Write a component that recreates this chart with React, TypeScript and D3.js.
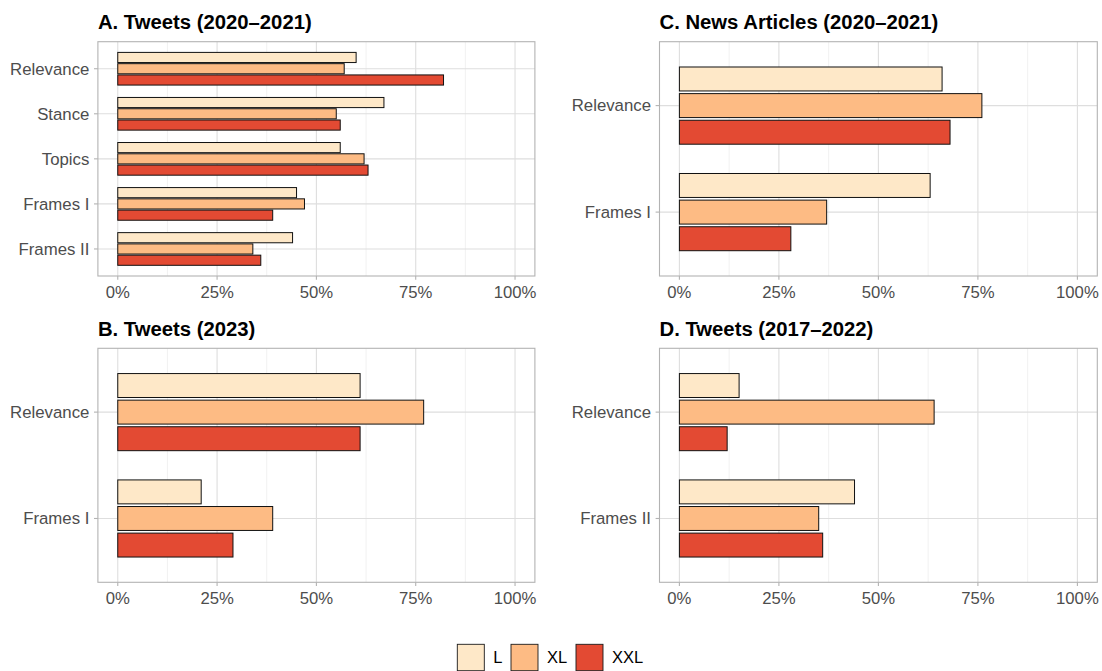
import React from 'react';
import * as d3 from 'd3';

const sizes = ['L', 'XL', 'XXL'];
const colors = ['#FEE8C8', '#FDBB84', '#E34A33'];
const xTicks = [0, 0.25, 0.5, 0.75, 1];
const xMinor = [0.125, 0.375, 0.625, 0.875];

const tweets2021Tasks = ['Relevance', 'Stance', 'Topics', 'Frames I', 'Frames II'];
const tweets2021L = [0.60, 0.67, 0.56, 0.45, 0.44];
const tweets2021XL = [0.57, 0.55, 0.62, 0.47, 0.34];
const tweets2021XXL = [0.82, 0.56, 0.63, 0.39, 0.36];

const tweets2023Tasks = ['Relevance', 'Frames I'];
const tweets2023L = [0.61, 0.21];
const tweets2023XL = [0.77, 0.39];
const tweets2023XXL = [0.61, 0.29];

const newsTasks = ['Relevance', 'Frames I'];
const newsL = [0.66, 0.63];
const newsXL = [0.76, 0.37];
const newsXXL = [0.68, 0.28];

const tweets2022Tasks = ['Relevance', 'Frames II'];
const tweets2022L = [0.15, 0.44];
const tweets2022XL = [0.64, 0.35];
const tweets2022XXL = [0.12, 0.36];

const FONT = '"Liberation Sans", Arial, sans-serif';

interface PanelProps {
  title: string;
  tasks: string[];
  series: number[][];
  left: number;
  right: number;
  top: number;
  bottom: number;
}

const Panel: React.FC<PanelProps> = ({ title, tasks, series, left, right, top, bottom }) => {
  const x = d3.scaleLinear().domain([-0.05, 1.05]).range([left, right]);
  // discrete axis expansion of 0.6 on each side, like ggplot
  const unit = (bottom - top) / (tasks.length + 0.2);
  const center = (t: string) => top + (0.6 + tasks.indexOf(t)) * unit;
  const dodge = d3.scaleBand<string>().domain(sizes).range([-0.375 * unit, 0.375 * unit]).paddingInner(0.1).paddingOuter(0.05);

  return (
    <g>
      <text x={left} y={top - 12.8} fontFamily={FONT} fontWeight="bold" fontSize={20.3} fill="#000">
        {title}
      </text>
      <rect x={left} y={top} width={right - left} height={bottom - top} fill="#fff" />
      {xMinor.map(t => (
        <line key={'mn' + t} x1={x(t)} x2={x(t)} y1={top} y2={bottom} stroke="#ebebeb" strokeWidth={0.7} />
      ))}
      {xTicks.map(t => (
        <line key={'mj' + t} x1={x(t)} x2={x(t)} y1={top} y2={bottom} stroke="#dedede" strokeWidth={1.1} />
      ))}
      {tasks.map(t => (
        <line key={'hy' + t} x1={left} x2={right} y1={center(t)} y2={center(t)} stroke="#dedede" strokeWidth={1.1} />
      ))}
      {tasks.map((t, i) => (
        <g key={'bars' + t}>
          {sizes.map((s, j) => (
            <rect
              key={s}
              x={x(0)}
              y={center(t) + (dodge(s) as number)}
              width={x(series[j][i]) - x(0)}
              height={dodge.bandwidth()}
              fill={colors[j]}
              stroke="#111"
              strokeWidth={1}
            />
          ))}
        </g>
      ))}
      <rect x={left} y={top} width={right - left} height={bottom - top} fill="none" stroke="#b3b3b3" strokeWidth={1.1} />
      {tasks.map(t => (
        <g key={'yl' + t}>
          <line x1={left - 3.9} x2={left} y1={center(t)} y2={center(t)} stroke="#b3b3b3" strokeWidth={1.1} />
          <text x={left - 8.5} y={center(t)} dy="0.35em" textAnchor="end" fontFamily={FONT} fontSize={16.8} fill="#4d4d4d">
            {t}
          </text>
        </g>
      ))}
      {xTicks.map(t => (
        <g key={'xl' + t}>
          <line x1={x(t)} x2={x(t)} y1={bottom} y2={bottom + 3.7} stroke="#b3b3b3" strokeWidth={1.1} />
          <text x={x(t)} y={bottom + 21.5} textAnchor="middle" fontFamily={FONT} fontSize={16.7} fill="#4d4d4d">
            {d3.format('.0%')(t)}
          </text>
        </g>
      ))}
    </g>
  );
};

const legendBoxes = [457.3, 511, 576];

export default function App() {
  return (
    <div style={{ position: 'absolute', left: 0, top: 0 }}>
      <svg width={1102} height={671} style={{ display: 'block', background: '#fff' }}>
        <Panel
          title="A. Tweets (2020–2021)"
          tasks={tweets2021Tasks}
          series={[tweets2021L, tweets2021XL, tweets2021XXL]}
          left={97.9}
          right={534.9}
          top={41.7}
          bottom={276}
        />
        <Panel
          title="B. Tweets (2023)"
          tasks={tweets2023Tasks}
          series={[tweets2023L, tweets2023XL, tweets2023XXL]}
          left={97.9}
          right={534.9}
          top={348.3}
          bottom={582.3}
        />
        <Panel
          title="C. News Articles (2020–2021)"
          tasks={newsTasks}
          series={[newsL, newsXL, newsXXL]}
          left={659.5}
          right={1097.3}
          top={41.7}
          bottom={276}
        />
        <Panel
          title="D. Tweets (2017–2022)"
          tasks={tweets2022Tasks}
          series={[tweets2022L, tweets2022XL, tweets2022XXL]}
          left={659.5}
          right={1097.3}
          top={348.3}
          bottom={582.3}
        />
        {sizes.map((s, i) => (
          <g key={'lg' + s}>
            <rect x={legendBoxes[i]} y={644.3} width={27} height={26.4} fill={colors[i]} stroke="#1a1a1a" strokeWidth={0.9} />
            <text x={legendBoxes[i] + 36} y={657.5} dy="0.35em" fontFamily={FONT} fontSize={16.5} fill="#000">
              {s}
            </text>
          </g>
        ))}
      </svg>
    </div>
  );
}
